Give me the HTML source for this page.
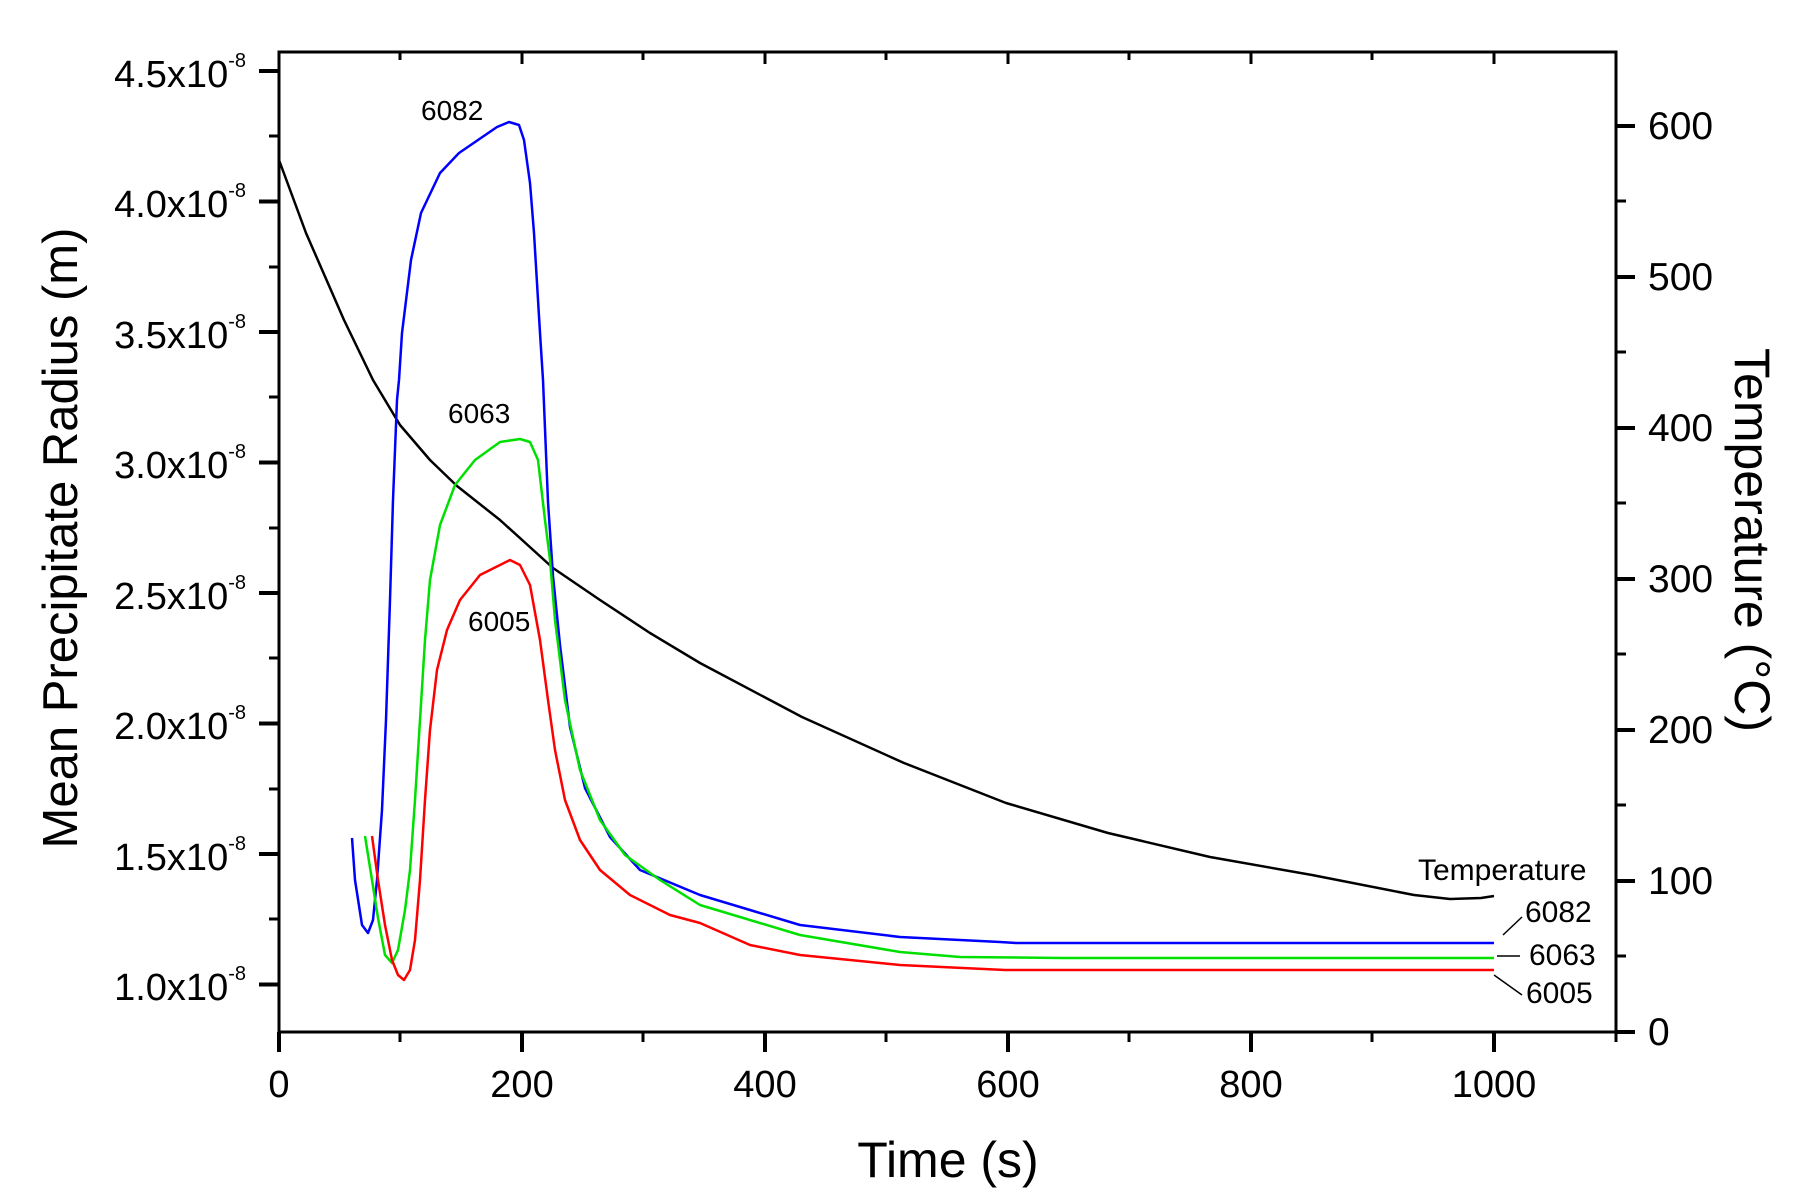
<!DOCTYPE html>
<html><head><meta charset="utf-8"><style>
html,body{margin:0;padding:0;background:#fff;}
svg{display:block;font-family:"Liberation Sans",Arial,sans-serif;}
</style></head><body>
<svg width="1797" height="1200" viewBox="0 0 1797 1200" xmlns="http://www.w3.org/2000/svg">
<rect width="1797" height="1200" fill="#fff"/>
<rect x="279" y="52" width="1337" height="980" fill="none" stroke="#000" stroke-width="3"/>
<g stroke="#000" stroke-width="4">
<line x1="259" y1="71" x2="279" y2="71"/><line x1="259" y1="201.5" x2="279" y2="201.5"/>
<line x1="259" y1="332" x2="279" y2="332"/><line x1="259" y1="462.5" x2="279" y2="462.5"/>
<line x1="259" y1="593" x2="279" y2="593"/><line x1="259" y1="723.5" x2="279" y2="723.5"/>
<line x1="259" y1="854" x2="279" y2="854"/><line x1="259" y1="984.5" x2="279" y2="984.5"/>
</g>
<g stroke="#000" stroke-width="3">
<line x1="269" y1="136" x2="279" y2="136"/><line x1="269" y1="267" x2="279" y2="267"/>
<line x1="269" y1="397" x2="279" y2="397"/><line x1="269" y1="528" x2="279" y2="528"/>
<line x1="269" y1="658" x2="279" y2="658"/><line x1="269" y1="789" x2="279" y2="789"/>
<line x1="269" y1="919" x2="279" y2="919"/>
</g>
<g stroke="#000" stroke-width="4">
<line x1="279" y1="1032" x2="279" y2="1052"/><line x1="522" y1="1032" x2="522" y2="1052"/>
<line x1="765" y1="1032" x2="765" y2="1052"/><line x1="1008" y1="1032" x2="1008" y2="1052"/>
<line x1="1251" y1="1032" x2="1251" y2="1052"/><line x1="1494" y1="1032" x2="1494" y2="1052"/>
</g>
<g stroke="#000" stroke-width="3">
<line x1="400" y1="1032" x2="400" y2="1042"/><line x1="643" y1="1032" x2="643" y2="1042"/>
<line x1="886" y1="1032" x2="886" y2="1042"/><line x1="1129" y1="1032" x2="1129" y2="1042"/>
<line x1="1372" y1="1032" x2="1372" y2="1042"/><line x1="1616" y1="1032" x2="1616" y2="1042"/>
</g>
<g stroke="#000" stroke-width="3">
<line x1="400" y1="52" x2="400" y2="60"/><line x1="522" y1="52" x2="522" y2="64"/>
<line x1="643" y1="52" x2="643" y2="60"/><line x1="765" y1="52" x2="765" y2="64"/>
<line x1="886" y1="52" x2="886" y2="60"/><line x1="1008" y1="52" x2="1008" y2="64"/>
<line x1="1129" y1="52" x2="1129" y2="60"/><line x1="1251" y1="52" x2="1251" y2="64"/>
<line x1="1372" y1="52" x2="1372" y2="60"/><line x1="1494" y1="52" x2="1494" y2="64"/>
</g>
<g stroke="#000" stroke-width="4">
<line x1="1616" y1="1032" x2="1635" y2="1032"/><line x1="1616" y1="881" x2="1635" y2="881"/>
<line x1="1616" y1="730" x2="1635" y2="730"/><line x1="1616" y1="579" x2="1635" y2="579"/>
<line x1="1616" y1="428" x2="1635" y2="428"/><line x1="1616" y1="277" x2="1635" y2="277"/>
<line x1="1616" y1="126" x2="1635" y2="126"/>
</g>
<g stroke="#000" stroke-width="3">
<line x1="1616" y1="956" x2="1626" y2="956"/><line x1="1616" y1="805" x2="1626" y2="805"/>
<line x1="1616" y1="654" x2="1626" y2="654"/><line x1="1616" y1="503" x2="1626" y2="503"/>
<line x1="1616" y1="352" x2="1626" y2="352"/><line x1="1616" y1="201" x2="1626" y2="201"/>
</g>
<g font-size="38" fill="#000" text-anchor="end">
<text x="246" y="87">4.5x10<tspan font-size="20" dy="-20">-8</tspan></text>
<text x="246" y="217">4.0x10<tspan font-size="20" dy="-20">-8</tspan></text>
<text x="246" y="348">3.5x10<tspan font-size="20" dy="-20">-8</tspan></text>
<text x="246" y="478">3.0x10<tspan font-size="20" dy="-20">-8</tspan></text>
<text x="246" y="609">2.5x10<tspan font-size="20" dy="-20">-8</tspan></text>
<text x="246" y="739">2.0x10<tspan font-size="20" dy="-20">-8</tspan></text>
<text x="246" y="870">1.5x10<tspan font-size="20" dy="-20">-8</tspan></text>
<text x="246" y="1000">1.0x10<tspan font-size="20" dy="-20">-8</tspan></text>
</g>
<g font-size="38" fill="#000" text-anchor="middle">
<text x="279" y="1097">0</text><text x="522" y="1097">200</text><text x="765" y="1097">400</text>
<text x="1008" y="1097">600</text><text x="1251" y="1097">800</text><text x="1494" y="1097">1000</text>
</g>
<g font-size="39" fill="#000">
<text x="1648" y="1045">0</text><text x="1648" y="894">100</text><text x="1648" y="743">200</text>
<text x="1648" y="592">300</text><text x="1648" y="441">400</text><text x="1648" y="290">500</text>
<text x="1648" y="139">600</text>
</g>
<text x="948" y="1177" font-size="50" text-anchor="middle">Time (s)</text>
<text transform="translate(77,538) rotate(-90)" font-size="49" text-anchor="middle">Mean Precipitate Radius (m)</text>
<text transform="translate(1735,540) rotate(90)" font-size="50" text-anchor="middle">Temperature (°C)</text>
<g fill="none" stroke-width="2.5" stroke-linejoin="round">
<polyline stroke="#000" points="279,160 306,233 344,320 373,380 400,425 430,460 457,486 500,520 553,568 600,600 650,633 700,663 802,717 904,763 1006,803 1108,833 1210,857 1312,875 1414,895 1450,899 1481,898 1494,896"/>
<polyline stroke="#0000ff" points="352,838 355,880 362,925 368,933 373,920 377,880 382,810 386,720 390,600 393,500 395,450 397,400 399,380 402,333 411,260 421,213 440,173 459,153 478,140 497,127 509,122 519,125 524,140 530,183 534,233 540,333 543,380 548,502 553,576 560,645 570,727 585,788 610,837 640,870 700,895 750,910 800,925 900,937 1000,942 1016,943 1494,943"/>
<polyline stroke="#00e000" points="365,836 372,880 378,918 385,955 392,963 398,950 405,910 410,870 415,800 420,720 425,640 430,580 440,525 455,485 475,460 500,442 520,439 530,442 538,460 545,520 550,560 555,620 565,700 580,770 600,820 625,855 660,880 700,905 740,917 800,935 900,952 960,957 1063,958 1494,958"/>
<polyline stroke="#ff0000" points="372,836 378,880 385,925 392,960 398,975 404,980 410,970 415,940 420,880 425,800 430,730 437,670 447,630 460,600 480,575 510,560 520,565 530,585 540,640 548,700 555,750 565,800 580,840 600,870 630,895 670,915 700,923 750,945 800,955 900,965 1005,970 1494,970"/>
</g>
<g font-size="28" fill="#000">
<text x="421" y="120">6082</text>
<text x="448" y="423">6063</text>
<text x="468" y="631">6005</text>
<text x="1418" y="880" font-size="30">Temperature</text>
<text x="1525" y="922" font-size="30">6082</text>
<text x="1529" y="965" font-size="30">6063</text>
<text x="1526" y="1003" font-size="30">6005</text>
</g>
<g stroke="#000" stroke-width="1.5">
<line x1="1503" y1="935" x2="1522" y2="917"/>
<line x1="1497" y1="956" x2="1520" y2="956"/>
<line x1="1494" y1="975" x2="1522" y2="995"/>
</g>
</svg>
</body></html>
